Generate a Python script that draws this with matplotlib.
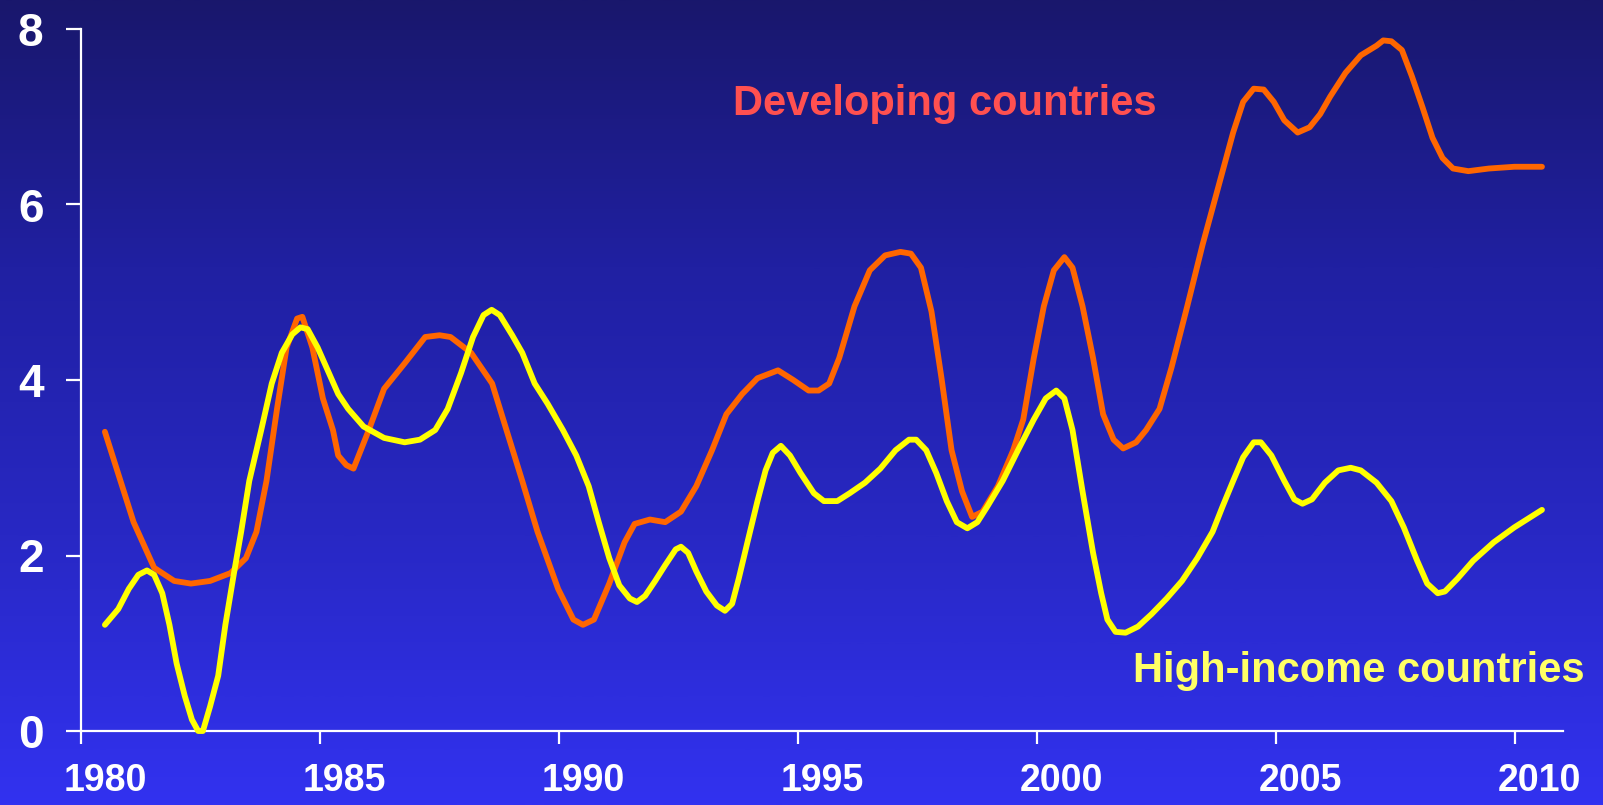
import numpy as np
import matplotlib
matplotlib.use("Agg")
import matplotlib.pyplot as plt
from matplotlib.colors import LinearSegmentedColormap

# ---- data (x in years, category centre of year Y at Y) ----
dev_x = [1980.0, 1980.6, 1981.03, 1981.45, 1981.8, 1982.2, 1982.63, 1982.95, 1983.17, 1983.38,
         1983.6, 1983.8, 1984.02, 1984.13, 1984.34, 1984.56, 1984.77, 1984.88, 1985.05, 1985.2,
         1985.52, 1985.84, 1986.27, 1986.7, 1987.0, 1987.23, 1987.66, 1988.1, 1988.4, 1988.73,
         1989.05, 1989.48, 1989.8, 1990.0, 1990.23, 1990.55, 1990.87, 1991.08, 1991.4, 1991.72,
         1992.05, 1992.37, 1992.7, 1993.0, 1993.33, 1993.65, 1994.08, 1994.4, 1994.72, 1994.93,
         1995.15, 1995.36, 1995.68, 1996.0, 1996.32, 1996.64, 1996.86, 1997.07, 1997.29, 1997.5,
         1997.71, 1997.93, 1998.14, 1998.36, 1998.68, 1999.0, 1999.21, 1999.43, 1999.64, 1999.85,
         2000.07, 2000.24, 2000.45, 2000.67, 2000.88, 2001.1, 2001.3, 2001.57, 2001.78, 2002.06,
         2002.31, 2002.64, 2002.96, 2003.28, 2003.6, 2003.81, 2004.03, 2004.24, 2004.45, 2004.67,
         2004.95, 2005.2, 2005.42, 2005.63, 2005.95, 2006.27, 2006.6, 2006.74, 2006.91, 2007.13,
         2007.34, 2007.56, 2007.77, 2007.98, 2008.2, 2008.52, 2008.95, 2009.48, 2010.06]
dev_y = [3.41, 2.38, 1.86, 1.71, 1.68, 1.71, 1.80, 1.97, 2.27, 2.85,
         3.67, 4.37, 4.70, 4.72, 4.37, 3.79, 3.43, 3.14, 3.03, 2.99,
         3.43, 3.90, 4.19, 4.49, 4.51, 4.49, 4.31, 3.96, 3.43, 2.85,
         2.27, 1.62, 1.27, 1.21, 1.27, 1.68, 2.15, 2.36, 2.41, 2.38,
         2.50, 2.79, 3.20, 3.61, 3.84, 4.02, 4.11, 4.00, 3.88, 3.88,
         3.96, 4.25, 4.84, 5.25, 5.42, 5.46, 5.44, 5.28, 4.78, 4.02,
         3.20, 2.73, 2.44, 2.50, 2.79, 3.20, 3.55, 4.25, 4.84, 5.25,
         5.40, 5.28, 4.84, 4.25, 3.61, 3.32, 3.22, 3.29, 3.43, 3.67,
         4.14, 4.84, 5.54, 6.18, 6.82, 7.17, 7.32, 7.31, 7.17, 6.96,
         6.82, 6.88, 7.03, 7.23, 7.50, 7.70, 7.81, 7.87, 7.86, 7.76,
         7.46, 7.11, 6.76, 6.53, 6.41, 6.38, 6.41, 6.43, 6.43]

hi_x = [1980.0, 1980.28, 1980.5, 1980.7, 1980.88, 1981.03, 1981.2, 1981.35, 1981.5, 1981.67,
        1981.82, 1981.95, 1982.05, 1982.2, 1982.37, 1982.52, 1982.7, 1982.85, 1983.02, 1983.27,
        1983.49, 1983.7, 1983.92, 1984.09, 1984.24, 1984.45, 1984.66, 1984.88, 1985.09, 1985.41,
        1985.84, 1986.27, 1986.59, 1986.91, 1987.17, 1987.45, 1987.7, 1987.92, 1988.09, 1988.26,
        1988.52, 1988.73, 1988.99, 1989.26, 1989.58, 1989.86, 1990.12, 1990.33, 1990.55, 1990.76,
        1990.98, 1991.13, 1991.3, 1991.51, 1991.72, 1991.94, 1992.05, 1992.2, 1992.37, 1992.58,
        1992.8, 1992.97, 1993.12, 1993.26, 1993.44, 1993.65, 1993.82, 1993.97, 1994.14, 1994.33,
        1994.55, 1994.83, 1995.04, 1995.32, 1995.58, 1995.9, 1996.22, 1996.54, 1996.82, 1996.97,
        1997.18, 1997.39, 1997.61, 1997.82, 1998.04, 1998.25, 1998.46, 1998.78, 1999.1, 1999.43,
        1999.68, 1999.9, 2000.07, 2000.24, 2000.45, 2000.67, 2000.84, 2000.97, 2001.14, 2001.35,
        2001.61, 2001.89, 2002.21, 2002.53, 2002.85, 2003.17, 2003.38, 2003.6, 2003.81, 2004.03,
        2004.18, 2004.4, 2004.67, 2004.88, 2005.05, 2005.25, 2005.52, 2005.8, 2006.06, 2006.27,
        2006.6, 2006.91, 2007.17, 2007.45, 2007.66, 2007.88, 2008.03, 2008.3, 2008.62, 2009.05,
        2009.48, 2010.06]
hi_y = [1.21, 1.39, 1.62, 1.78, 1.83, 1.78, 1.57, 1.21, 0.77, 0.40,
        0.13, 0.00, 0.00, 0.28, 0.63, 1.21, 1.80, 2.27, 2.85, 3.43,
        3.96, 4.31, 4.52, 4.60, 4.58, 4.37, 4.11, 3.84, 3.67, 3.47,
        3.34, 3.29, 3.32, 3.43, 3.67, 4.08, 4.49, 4.74, 4.80, 4.74,
        4.51, 4.31, 3.96, 3.73, 3.43, 3.14, 2.79, 2.38, 1.97, 1.66,
        1.51, 1.47, 1.54, 1.71, 1.89, 2.07, 2.10, 2.03, 1.82, 1.59,
        1.43, 1.37, 1.45, 1.74, 2.15, 2.62, 2.97, 3.17, 3.25, 3.14,
        2.94, 2.71, 2.62, 2.62, 2.71, 2.83, 2.99, 3.20, 3.32, 3.32,
        3.20, 2.94, 2.62, 2.38, 2.31, 2.38, 2.56, 2.85, 3.20, 3.55,
        3.79, 3.88, 3.79, 3.43, 2.73, 2.03, 1.57, 1.27, 1.13, 1.12,
        1.19, 1.33, 1.51, 1.71, 1.97, 2.27, 2.56, 2.85, 3.12, 3.29,
        3.29, 3.14, 2.85, 2.64, 2.59, 2.64, 2.83, 2.97, 3.00, 2.97,
        2.83, 2.62, 2.32, 1.94, 1.68, 1.57, 1.59, 1.74, 1.94, 2.15,
        2.32, 2.52]

year_labels = [1980, 1985, 1990, 1995, 2000, 2005, 2010]
y_ticks = [0, 2, 4, 6, 8]
dev_label = "Developing countries"
hi_label = "High-income countries"

# ---- figure ----
W, H = 1603, 805
fig = plt.figure(figsize=(W / 100, H / 100), dpi=100)

# gradient background
bg = fig.add_axes([0, 0, 1, 1], zorder=0)
cmap = LinearSegmentedColormap.from_list("bg", ["#19176c", "#2020a2", "#2828c4", "#3232f0"])
grad = np.linspace(0, 1, 512).reshape(-1, 1)
bg.imshow(grad, aspect="auto", cmap=cmap, extent=[0, 1, 0, 1], origin="upper")
bg.set_axis_off()

ax = fig.add_axes([81 / W, 74 / H, (1563 - 81) / W, 702 / H], zorder=1)
ax.set_facecolor("none")

ax.plot(dev_x, dev_y, color="#FF6600", lw=4.2, solid_joinstyle="round",
        solid_capstyle="round", clip_on=False, zorder=3)
ax.plot(hi_x, hi_y, color="#FFFF00", lw=4.2, solid_joinstyle="round",
        solid_capstyle="round", clip_on=False, zorder=4)

ax.set_xlim(1979.5, 2010.5)
ax.set_ylim(0, 8)

for s in ["top", "right"]:
    ax.spines[s].set_visible(False)
for s in ["left", "bottom"]:
    ax.spines[s].set_color("white")
    ax.spines[s].set_linewidth(1.6)

# major x ticks at category boundaries (no labels), labels on category centres
ax.set_xticks([y - 0.5 for y in year_labels])
ax.set_xticklabels([])
ax.tick_params(axis="x", which="major", direction="out", length=9, width=1.6, color="white")
ax.set_xticks(year_labels, minor=True)
ax.set_xticklabels([str(y) for y in year_labels], minor=True)
ax.tick_params(axis="x", which="minor", length=0, pad=23, labelcolor="white",
               labelsize=27)

ax.set_yticks(y_ticks)
ax.set_yticklabels([str(v) for v in y_ticks])
ax.tick_params(axis="y", direction="out", length=11, width=1.6, color="white",
               labelcolor="white", labelsize=33, pad=16)

for lab in ax.get_xticklabels(minor=True) + ax.get_yticklabels():
    lab.set_fontfamily("Liberation Sans")
    lab.set_fontweight("bold")

fig.text(733 / W, 1 - 115 / H, dev_label, color="#FF5050", fontsize=30,
         fontweight="bold", family="Liberation Sans", ha="left", va="baseline")
fig.text(1133 / W, 1 - 682 / H, hi_label, color="#FFFF66", fontsize=30,
         fontweight="bold", family="Liberation Sans", ha="left", va="baseline")

fig.savefig("out.png", dpi=100)
